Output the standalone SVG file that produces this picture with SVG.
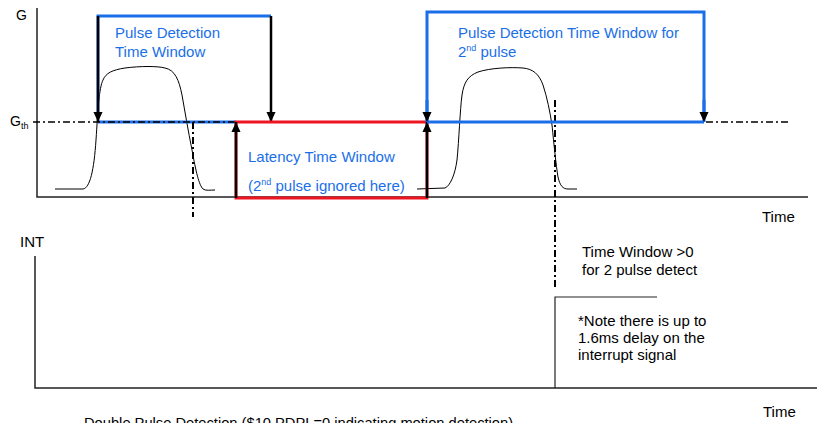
<svg xmlns="http://www.w3.org/2000/svg" width="828" height="423" viewBox="0 0 828 423">
<defs>
<marker id="ah" markerUnits="userSpaceOnUse" markerWidth="10" markerHeight="11" refX="11" refY="5" orient="auto" viewBox="0 0 11 10">
<path d="M0,0 L11,5 L0,10 z" fill="#000"/>
</marker>
</defs>
<style>
text{font-family:"Liberation Sans",Arial,sans-serif;font-size:15px;fill:#000}
.bt{fill:#1a6fe8}
.axis{stroke:#222;stroke-width:1.5;fill:none}
.dd{stroke:#000;stroke-width:1.6;stroke-dasharray:7 3 2 3;fill:none}
.ddv{stroke:#000;stroke-width:2;stroke-dasharray:7 3 2 3;fill:none}
.blue{stroke:#1a6fe8;stroke-width:3;fill:none}
.red{stroke:#ee1520;stroke-width:3;fill:none}
.arr{stroke:#000;stroke-width:2.5;fill:none;marker-end:url(#ah)}
.pulse{stroke:#000;stroke-width:1;fill:none}
</style>
<rect width="828" height="423" fill="#fff"/>

<g id="axes">
<path class="axis" d="M37,8 V197 H808"/>
<path class="axis" d="M35,256 V388 H817"/>
<text x="16" y="20" style="font-size:14px">G</text>
<text x="10" y="126" style="font-size:14px">G<tspan style="font-size:9px" dy="3">th</tspan></text>
<text x="762" y="222">Time</text>
<text x="20" y="247">INT</text>
<text x="763" y="417">Time</text>
</g>

<g id="pulses">
<path class="pulse" d="M55,189 L83,189 C90,188 94,170 96,140 C98,110 99,88 103,80 C106,73 112,70 125,68 C140,66 158,66 165,68 C175,70 179,80 182,95 C185,112 188,130 192,150 C196,172 199,185 203,189 C206,191 210,190 215,190"/>
<path class="pulse" d="M417,189 L445,188 C450,186 455,175 457,160 C459,140 460,110 462,95 C464,82 468,76 478,72 C490,68 510,67 523,68 C533,69 539,74 543,85 C547,97 550,112 552,125 C554,145 556,165 558,177 C560,186 563,189 568,189 L577,189"/>
</g>

<g id="window1">
<path class="blue" d="M98,112 V16 H271"/>
<line class="blue" x1="98" y1="122" x2="236" y2="122"/>
<line class="arr" x1="98" y1="16" x2="98" y2="122"/>
<line class="arr" x1="271" y1="16" x2="271" y2="122"/>
<text class="bt" x="115" y="38">Pulse Detection</text>
<text class="bt" x="115" y="57">Time Window</text>
</g>

<g id="threshold">
<line class="dd" x1="33" y1="122" x2="236" y2="122"/>
<line class="dd" x1="706" y1="122" x2="788" y2="122"/>
<line class="ddv" x1="193" y1="122" x2="193" y2="217"/>
<line class="ddv" x1="555" y1="100" x2="555" y2="290"/>
</g>

<g id="latency">
<path class="red" d="M236,122 H427 V198 H236 Z"/>
<line class="arr" x1="236" y1="198" x2="236" y2="122"/>
<line class="arr" x1="427" y1="198" x2="427" y2="122"/>
<text class="bt" x="248" y="162">Latency Time Window</text>
<text class="bt" x="248" y="191">(2<tspan style="font-size:9px" dy="-6">nd</tspan><tspan dy="6"> pulse ignored here)</tspan></text>
</g>

<g id="window2">
<path class="blue" d="M427,122 V12 H704 V112"/>
<line class="blue" x1="427" y1="122" x2="704" y2="122"/>
<line class="blue" x1="427" y1="100" x2="427" y2="122" style="marker-end:url(#ah)"/>
<line class="blue" x1="704" y1="100" x2="704" y2="122" style="marker-end:url(#ah)"/>
<text class="bt" x="458" y="38">Pulse Detection Time Window for</text>
<text class="bt" x="458" y="57">2<tspan style="font-size:9px" dy="-6">nd</tspan><tspan dy="6"> pulse</tspan></text>
</g>

<g id="interrupt">
<path class="axis" style="stroke-width:1.2" d="M555,388 V297 H657"/>
<text x="582" y="257">Time Window &gt;0</text>
<text x="582" y="275">for 2 pulse detect</text>
<text x="578" y="326">*Note there is up to</text>
<text x="578" y="343">1.6ms delay on the</text>
<text x="578" y="360">interrupt signal</text>
</g>

<g id="caption">
<text x="84" y="428" style="font-size:14.7px">Double Pulse Detection ($10 PDPL=0 indicating motion detection)</text>
</g>
</svg>
